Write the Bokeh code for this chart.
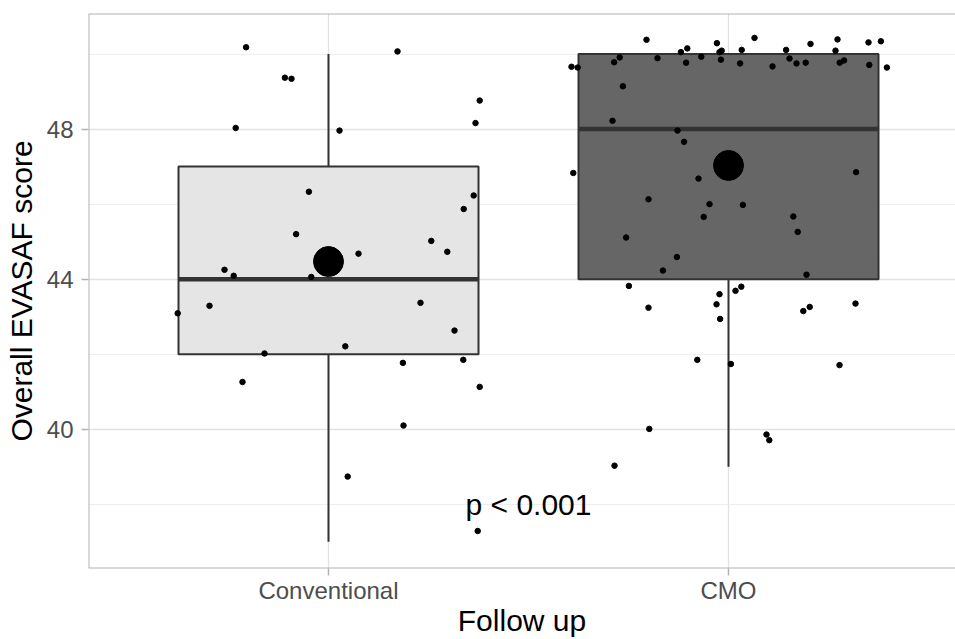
from bokeh.plotting import figure
from bokeh.models import Range1d, FixedTicker, ColumnDataSource, Span
from bokeh.embed import file_html
from bokeh.resources import INLINE
from bokeh.core.properties import value

# ---------------- data ----------------
groups = ["Conventional", "CMO"]
group_pos = [1, 2]
q1 = [42, 44]
median = [44, 48]
q3 = [47, 50]
whisk_lo = [37, 39]
whisk_hi = [50, 50]
means = [44.47, 47.03]

conv_jitter = [-0.206, -0.109, -0.0925, -0.232, 0.1725, 0.0275, 0.378, 0.3675, -0.049, 0.363,
               0.338, -0.081, 0.257, 0.297, 0.075, -0.26, -0.237, -0.043, -0.2975, 0.23,
               -0.377, 0.315, 0.042, -0.16, 0.186, 0.337, 0.378, -0.215, 0.1875, 0.048, 0.373]
conv_score = [50.18, 49.37, 49.34, 48.03, 50.07, 47.96, 48.76, 48.16, 46.33, 46.23,
              45.87, 45.2, 45.02, 44.73, 44.68, 44.25, 44.09, 44.06, 43.29, 43.37,
              43.09, 42.63, 42.21, 42.02, 41.77, 41.85, 41.13, 41.26, 40.1, 38.74, 37.29]

cmo_jitter = [-0.205, -0.029, 0.065, 0.205, 0.2725, 0.35, 0.381, -0.103, -0.119, -0.0225,
              -0.017, 0.033, 0.144, 0.2675, -0.272, -0.286, -0.1775, -0.068, -0.106, -0.019,
              0.029, 0.11, 0.1525, 0.17, 0.193, 0.278, 0.289, 0.352, 0.396, -0.3925,
              -0.377, -0.264, -0.29, -0.1275, -0.111, -0.388, 0.319, -0.075, -0.2, -0.0475,
              0.036, -0.062, 0.162, 0.173, -0.256, -0.129, -0.164, 0.195, -0.249, 0.032,
              0.0175, -0.0225, -0.2, -0.03, 0.203, 0.187, 0.3175, -0.021, -0.078, 0.006,
              0.2775, -0.198, 0.095, 0.102, -0.285]
cmo_score = [50.38, 50.29, 50.43, 50.27, 50.39, 50.31, 50.34, 50.15, 50.05, 50.05,
             50.09, 50.11, 50.11, 50.09, 49.91, 49.78, 49.89, 49.93, 49.77, 49.85,
             49.75, 49.67, 49.88, 49.75, 49.77, 49.77, 49.83, 49.71, 49.64, 49.66,
             49.64, 49.14, 48.22, 47.96, 47.66, 46.83, 46.85, 46.68, 46.13, 46.0,
             45.98, 45.66, 45.67, 45.26, 45.11, 44.59, 44.23, 44.12, 43.82, 43.8,
             43.69, 43.6, 43.24, 43.33, 43.26, 43.15, 43.35, 42.94, 41.85, 41.74,
             41.71, 40.01, 39.86, 39.71, 39.03]

y_ticks = [40, 44, 48]
y_minor = [38, 42, 46, 50]
p_label = "p < 0.001"
p_label_pos = (1.5, 38)

box_fills = ["#e5e5e5", "#666666"]
FONT = "Liberation Sans"

# ---------------- figure ----------------
x_rng = Range1d(0.4, 2.5675)
y_rng = Range1d(36.29, 51.08)
p = figure(width=955, height=639, output_backend="svg", toolbar_location=None,
           x_range=x_rng, y_range=y_rng,
           min_border_left=88, min_border_right=0, min_border_top=13, min_border_bottom=0,
           background_fill_color="white", border_fill_color="white")

p.outline_line_color = None
border_kw = dict(line_color="#b3b3b3", line_width=2)
p.add_layout(Span(location=x_rng.start, dimension="height", **border_kw))
p.add_layout(Span(location=y_rng.start, dimension="width", **border_kw))
p.add_layout(Span(location=y_rng.end, dimension="width", **border_kw))

# grids
p.xgrid.ticker = FixedTicker(ticks=group_pos)
p.ygrid.ticker = FixedTicker(ticks=y_ticks, minor_ticks=y_minor)
for g in (p.xgrid, p.ygrid):
    g.grid_line_color = "#e2e2e2"
    g.grid_line_width = 1.3
p.ygrid.minor_grid_line_color = "#ececec"
p.ygrid.minor_grid_line_width = 0.9

# axes
p.xaxis.ticker = FixedTicker(ticks=group_pos)
p.xaxis.major_label_overrides = {pos: name for pos, name in zip(group_pos, groups)}
p.yaxis.ticker = FixedTicker(ticks=y_ticks)
for ax in (p.xaxis, p.yaxis):
    ax.axis_line_color = None
    ax.major_tick_line_color = "#b3b3b3"
    ax.major_tick_line_width = 1.5
    ax.major_tick_out = 7
    ax.major_tick_in = 0
    ax.minor_tick_line_color = None
    ax.major_label_text_font = FONT
    ax.major_label_text_font_size = "24px"
    ax.major_label_text_color = "#4d4d4d"
    ax.axis_label_text_font = FONT
    ax.axis_label_text_font_size = "30px"
    ax.axis_label_text_font_style = "normal"
    ax.axis_label_text_color = "black"
p.xaxis.major_label_standoff = 1
p.xaxis.axis_label_standoff = -3
p.yaxis.major_label_standoff = 8
p.yaxis.axis_label_standoff = 6
p.xaxis.axis_label = "Follow up"
p.yaxis.axis_label = "Overall EVASAF score"

# whiskers
p.segment(x0=group_pos, x1=group_pos, y0=q3, y1=whisk_hi, line_color="#333333", line_width=2)
p.segment(x0=group_pos, x1=group_pos, y0=q1, y1=whisk_lo, line_color="#333333", line_width=2)

# boxes
p.vbar(x=group_pos, width=0.75, bottom=q1, top=q3, fill_color=box_fills,
       line_color="#333333", line_width=2)
# medians
p.segment(x0=[g - 0.375 for g in group_pos], x1=[g + 0.375 for g in group_pos],
          y0=median, y1=median, line_color="#333333", line_width=4.5)

# jittered points
conv_src = ColumnDataSource(dict(x=[group_pos[0] + j for j in conv_jitter], y=conv_score))
cmo_src = ColumnDataSource(dict(x=[group_pos[1] + j for j in cmo_jitter], y=cmo_score))
for src in (conv_src, cmo_src):
    p.scatter("x", "y", source=src, size=5.5, color="black")

# means
p.scatter(x=group_pos, y=means, size=30, color="black")

# p-value annotation
p.text(x=[p_label_pos[0]], y=[p_label_pos[1]], text=[p_label], text_font=value(FONT),
       text_font_size="30px", text_align="center", text_baseline="middle", text_color="black")

open("out.html", "w").write(file_html(p, INLINE))
